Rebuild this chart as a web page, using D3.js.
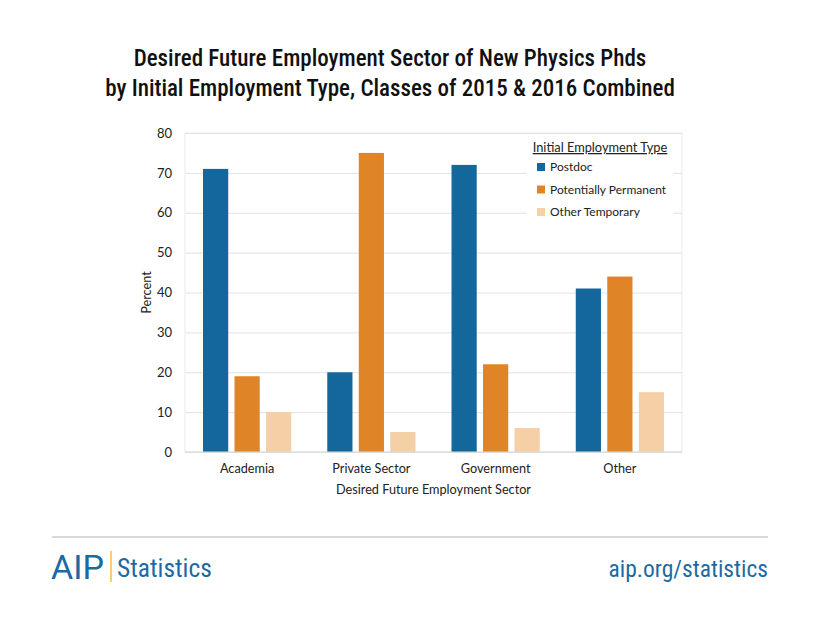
<!DOCTYPE html>
<html><head><meta charset="utf-8">
<script src="https://cdn.jsdelivr.net/npm/d3@7"></script>
<style>body{margin:0;background:#fff;}svg{display:block;}</style>
</head><body>
<svg id="c" width="820" height="618"></svg>
<script>
const categories = ["Academia", "Private Sector", "Government", "Other"];
const seriesNames = ["Postdoc", "Potentially Permanent", "Other Temporary"];
const postdoc = [71, 20, 72, 41];
const potentiallyPermanent = [19, 75, 22, 44];
const otherTemporary = [10, 5, 6, 15];
const yTicks = [0, 10, 20, 30, 40, 50, 60, 70, 80];
const colors = ["#14679b", "#e08428", "#f5cfa6"];

const series = [postdoc, potentiallyPermanent, otherTemporary];
const svg = d3.select("#c");
const m = {left: 185, right: 682, top: 133, bottom: 452};
const font = "Lato, 'Open Sans', sans-serif";
const cond = "'Liberation Sans Narrow', 'Roboto Condensed', Roboto, sans-serif";

// title
const title = svg.append("text").attr("x", 390).attr("text-anchor", "middle")
  .attr("font-family", cond)
  .attr("font-stretch", "condensed").attr("font-size", 23).attr("font-weight", 500).attr("fill", "#111");
title.append("tspan").attr("x", 390).attr("y", 66).text("Desired Future Employment Sector of New Physics Phds");
title.append("tspan").attr("x", 390).attr("y", 96).text("by Initial Employment Type, Classes of 2015 & 2016 Combined");

const y = d3.scaleLinear().domain([0, 80]).range([m.bottom, m.top]);
const x0 = d3.scaleBand().domain(categories).range([m.left, m.right]).paddingInner(0.29).paddingOuter(0.145);
const x1 = d3.scaleBand().domain(seriesNames).range([0, x0.bandwidth()]).paddingInner(0.2);

// plot border
svg.append("rect").attr("x", m.left).attr("y", m.top).attr("width", m.right - m.left).attr("height", m.bottom - m.top)
  .attr("fill", "none").attr("stroke", "#ececec");

// grid
const yAxis = d3.axisLeft(y).tickValues(yTicks).tickSize(-(m.right - m.left)).tickPadding(13);
const ga = svg.append("g").attr("transform", `translate(${m.left},0)`).call(yAxis);
ga.select(".domain").remove();
ga.selectAll(".tick line").attr("stroke", "#e2e2e2");
ga.selectAll(".tick text").attr("font-family", font).attr("font-size", 13).attr("fill", "#222");

// bars
const groups = svg.append("g").selectAll("g").data(categories).join("g")
  .attr("transform", d => `translate(${x0(d)},0)`);
groups.selectAll("rect").data((d, i) => seriesNames.map((s, j) => ({s, j, v: series[j][i]})))
  .join("rect")
  .attr("x", d => x1(d.s)).attr("width", x1.bandwidth())
  .attr("y", d => y(d.v)).attr("height", d => y(0) - y(d.v))
  .attr("fill", d => colors[d.j]);

// baseline
svg.append("line").attr("x1", m.left).attr("x2", m.right).attr("y1", m.bottom).attr("y2", m.bottom)
  .attr("stroke", "#d9d9d9");

// x axis
const xa = svg.append("g").attr("transform", `translate(0,${m.bottom})`)
  .call(d3.axisBottom(x0).tickSize(0).tickPadding(12));
xa.select(".domain").remove();
xa.selectAll(".tick text").attr("font-family", font).attr("font-size", 12.7).attr("fill", "#222");

svg.append("text").attr("x", (m.left + m.right) / 2).attr("y", 494).attr("text-anchor", "middle")
  .attr("font-family", font).attr("font-size", 12.7).attr("fill", "#222").text("Desired Future Employment Sector");
svg.append("text").attr("transform", `translate(151,${(m.top + m.bottom) / 2}) rotate(-90)`)
  .attr("text-anchor", "middle").attr("font-family", font).attr("font-size", 12.7).attr("fill", "#222").text("Percent");

// legend
const lg = svg.append("g");
lg.append("rect").attr("x", 527).attr("y", 137).attr("width", 146).attr("height", 88).attr("fill", "#fff");
lg.append("text").attr("x", 600).attr("y", 152).attr("text-anchor", "middle")
  .attr("font-family", font).attr("font-size", 12.8).attr("fill", "#222")
  .attr("text-decoration", "underline").text("Initial Employment Type");
seriesNames.forEach((s, j) => {
  const yy = 168 + j * 22.5;
  lg.append("rect").attr("x", 537).attr("y", yy - 5).attr("width", 8).attr("height", 8).attr("fill", colors[j]);
  lg.append("text").attr("x", 550).attr("y", yy + 3).attr("font-family", font).attr("font-size", 12)
    .attr("fill", "#222").text(s);
});

// footer
svg.append("line").attr("x1", 52).attr("x2", 768).attr("y1", 537).attr("y2", 537).attr("stroke", "#b5b5b5").attr("stroke-width", 1.2);
svg.append("text").attr("x", 51).attr("y", 579).attr("font-family", "Roboto, 'Liberation Sans', sans-serif")
  .attr("font-size", 34).attr("font-weight", 400).attr("fill", "#1b6aa3").text("AIP");
svg.append("line").attr("x1", 111).attr("x2", 111).attr("y1", 551).attr("y2", 582).attr("stroke", "#f3b324").attr("stroke-width", 1.3);
svg.append("text").attr("x", 117).attr("y", 577).attr("font-family", cond)
  .attr("font-stretch", "condensed").attr("font-size", 25.5).attr("fill", "#1b6aa3").text("Statistics");
svg.append("text").attr("x", 768).attr("y", 577).attr("text-anchor", "end")
  .attr("font-family", cond)
  .attr("font-stretch", "condensed").attr("font-size", 23.5).attr("fill", "#1b6aa3").text("aip.org/statistics");
</script>
</body></html>
